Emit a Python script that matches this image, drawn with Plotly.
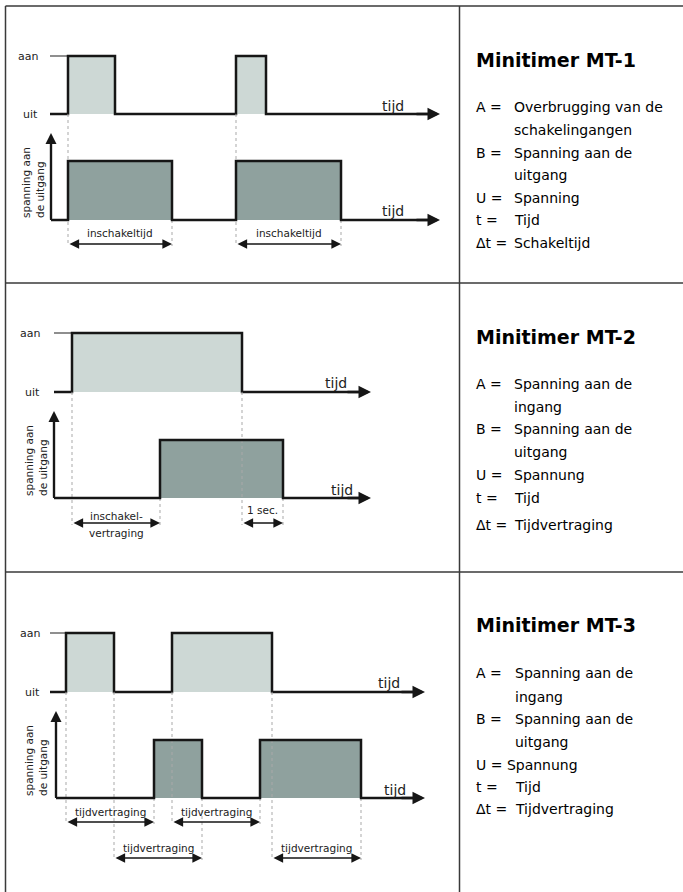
import plotly.graph_objects as go

W, H = 683, 892
FONT = "DejaVu Sans"
INK = "#161616"
LIGHT_FILL = "#cdd8d5"
DARK_FILL = "#8fa19e"
GUIDE = "#a9a9a9"
BORDER = "#3a3a3a"

# ---------------- data (time in arbitrary units, 0 = output axis) -------------
MT1_A_ON = [1.7, 18.5]
MT1_A_OFF = [6.4, 21.5]
MT1_B_ON = [1.7, 18.5]
MT1_B_OFF = [12.1, 29.0]

MT2_A_ON = [1.8]
MT2_A_OFF = [18.8]
MT2_B_ON = [10.6]
MT2_B_OFF = [22.9]

MT3_A_ON = [1.0, 11.6]
MT3_A_OFF = [5.8, 21.6]
MT3_B_ON = [9.8, 20.4]
MT3_B_OFF = [14.6, 30.5]

AXIS_END = [38.9, 31.7, 36.9]
INPUT_START = [-0.1, 0.0, -0.6]

LEVEL_LABELS = ["uit", "aan"]
TIME_LABEL = "tijd"
OUTPUT_LABEL = "spanning aan<br>de uitgang"

MT1_SPAN_LABELS = ["inschakeltijd", "inschakeltijd"]
MT2_SPAN_LABELS = ["inschakel-", "1 sec."]
MT2_SPAN_SUBLABELS = ["vertraging", ""]
MT3_SPAN_LABELS = ["tijdvertraging", "tijdvertraging", "tijdvertraging", "tijdvertraging"]

TITLES = ["Minitimer MT-1", "Minitimer MT-2", "Minitimer MT-3"]
MT1_KEYS = ["A =", "", "B =", "", "U =", "t =", "Δt ="]
MT1_TEXTS = ["Overbrugging van de", "schakelingangen", "Spanning aan de", "uitgang",
             "Spanning", "Tijd", "Schakeltijd"]
MT2_KEYS = ["A =", "", "B =", "", "U =", "t =", "Δt ="]
MT2_TEXTS = ["Spanning aan de", "ingang", "Spanning aan de", "uitgang",
             "Spannung", "Tijd", "Tijdvertraging"]
MT3_KEYS = ["A =", "", "B =", "", "U = Spannung", "t =", "Δt ="]
MT3_TEXTS = ["Spanning aan de", "ingang", "Spanning aan de", "uitgang",
             "", "Tijd", "Tijdvertraging"]

# ---------------- derived structures --------------------------------------
ROWS_DATA = [
    dict(a_on=MT1_A_ON, a_off=MT1_A_OFF, b_on=MT1_B_ON, b_off=MT1_B_OFF,
         spans=[(a, b, 0) for a, b in zip(MT1_B_ON, MT1_B_OFF)],
         labels=MT1_SPAN_LABELS, sublabels=["", ""]),
    dict(a_on=MT2_A_ON, a_off=MT2_A_OFF, b_on=MT2_B_ON, b_off=MT2_B_OFF,
         spans=[(MT2_A_ON[0], MT2_B_ON[0], 0), (MT2_A_OFF[0], MT2_B_OFF[0], 0)],
         labels=MT2_SPAN_LABELS, sublabels=MT2_SPAN_SUBLABELS),
    dict(a_on=MT3_A_ON, a_off=MT3_A_OFF, b_on=MT3_B_ON, b_off=MT3_B_OFF,
         spans=[(a, b, 0) for a, b in zip(MT3_A_ON, MT3_B_ON)]
         + [(a, b, 1) for a, b in zip(MT3_A_OFF, MT3_B_OFF)],
         labels=MT3_SPAN_LABELS, sublabels=["", "", "", ""]),
]
LEGENDS = [(MT1_KEYS, MT1_TEXTS), (MT2_KEYS, MT2_TEXTS), (MT3_KEYS, MT3_TEXTS)]

# ---------------- layout geometry (pixels) --------------------------------
PX_PER_T = 10.0
GEOM = [
    dict(ox=51, in_base=114, in_high=56, out_base=220, out_high=161, lab_right=40,
         ylab_x=32.5, span_px=[244], label_dy=[11, 11], sub_dy=-10,
         tijd=[(393, 106), (393, 211)], title_y=60,
         leg_y=[107, 130, 153, 175, 198, 220, 243], text_x=512),
    dict(ox=54, in_base=392, in_high=333, out_base=498, out_high=440, lab_right=42,
         ylab_x=35.5, span_px=[523], label_dy=[7, 13], sub_dy=-10,
         tijd=[(336, 383), (342, 490)], title_y=337,
         leg_y=[384, 407, 429, 452, 475, 498, 525], text_x=512),
    dict(ox=56, in_base=692, in_high=633, out_base=798, out_high=740, lab_right=42,
         ylab_x=35.5, span_px=[822, 858], label_dy=[10, 10, 10, 10], sub_dy=-10,
         tijd=[(389, 683), (395, 790)], title_y=625,
         leg_y=[673, 697, 719, 742, 765, 787, 809], text_x=513),
]
AXIS_TOP_PX = 87
ARROW_TAIL = 2.5     # annotation tail length (time units)
LINE_STOP = 0.9      # signal lines stop this far before the arrow tip (time units)
KEY_X = 474


def px_x(px):
    return px / W


def px_y(py):
    return 1 - py / H


def pulse_polys(ons, offs):
    xs, ys = [], []
    for a, b in zip(ons, offs):
        xs += [a, a, b, b, None]
        ys += [0, 1, 1, 0, None]
    return xs, ys


def step_line(start, ons, offs, end):
    xs, ys = [start], [0]
    for a, b in zip(ons, offs):
        xs += [a, b]
        ys += [1, 0]
    xs.append(end)
    ys.append(0)
    return xs, ys


fig = go.Figure()
axes = {}
annotations = []
shapes = []

for r in range(3):
    g = GEOM[r]
    d = ROWS_DATA[r]
    xa = "x" if r == 0 else f"x{r + 1}"
    xa_name = "xaxis" if r == 0 else f"xaxis{r + 1}"
    yi, yo = 2 * r + 1, 2 * r + 2
    yin = "y" if yi == 1 else f"y{yi}"
    yin_name = "yaxis" if yi == 1 else f"yaxis{yi}"
    yout = f"y{yo}"
    yout_name = f"yaxis{yo}"

    axes[xa_name] = dict(domain=[0, 1], range=[-g["ox"] / PX_PER_T, (W - g["ox"]) / PX_PER_T],
                         visible=False, fixedrange=True)
    u_in = g["in_base"] - g["in_high"]
    axes[yin_name] = dict(domain=[0, 1], range=[-(H - g["in_base"]) / u_in, g["in_base"] / u_in],
                          visible=False, fixedrange=True)
    u_out = g["out_base"] - g["out_high"]
    axes[yout_name] = dict(domain=[0, 1], range=[-(H - g["out_base"]) / u_out, g["out_base"] / u_out],
                           visible=False, fixedrange=True)

    def out_val(px):
        return (g["out_base"] - px) / u_out

    top_val = out_val(g["out_base"] - AXIS_TOP_PX)

    # fills
    xs, ys = pulse_polys(d["a_on"], d["a_off"])
    fig.add_trace(go.Scatter(x=xs, y=ys, xaxis=xa, yaxis=yin, mode="lines", fill="toself",
                             fillcolor=LIGHT_FILL, line=dict(width=0), hoverinfo="skip"))
    xs, ys = pulse_polys(d["b_on"], d["b_off"])
    fig.add_trace(go.Scatter(x=xs, y=ys, xaxis=xa, yaxis=yout, mode="lines", fill="toself",
                             fillcolor=DARK_FILL, line=dict(width=0), hoverinfo="skip"))

    # dotted guide lines
    a_edges = set(d["a_on"]) | set(d["a_off"])
    gx, gy = [], []
    for t0, t1, lvl in d["spans"]:
        bottom = out_val(g["span_px"][lvl] + 2)
        for t in (t0, t1):
            top = out_val(g["in_base"]) if t in a_edges else 0
            gx += [t, t, None]
            gy += [top, bottom, None]
    fig.add_trace(go.Scatter(x=gx, y=gy, xaxis=xa, yaxis=yout, mode="lines",
                             line=dict(color=GUIDE, width=1, dash="dot"), hoverinfo="skip"))

    # "aan" reference tick
    fig.add_trace(go.Scatter(x=[INPUT_START[r], d["a_on"][0]], y=[1, 1], xaxis=xa, yaxis=yin,
                             mode="lines", line=dict(color="#444444", width=1.2), hoverinfo="skip"))

    # signal lines
    xs, ys = step_line(INPUT_START[r], d["a_on"], d["a_off"], AXIS_END[r] - LINE_STOP)
    fig.add_trace(go.Scatter(x=xs, y=ys, xaxis=xa, yaxis=yin, mode="lines", line_shape="hv",
                             line=dict(color=INK, width=2.5), hoverinfo="skip"))
    xs, ys = step_line(0, d["b_on"], d["b_off"], AXIS_END[r] - LINE_STOP)
    fig.add_trace(go.Scatter(x=xs, y=ys, xaxis=xa, yaxis=yout, mode="lines", line_shape="hv",
                             line=dict(color=INK, width=2.5), hoverinfo="skip"))
    # vertical output axis
    fig.add_trace(go.Scatter(x=[0, 0], y=[0, top_val - 9 / u_out], xaxis=xa, yaxis=yout,
                             mode="lines", line=dict(color=INK, width=2.2), hoverinfo="skip"))

    # axis arrows
    for yref in (yin, yout):
        annotations.append(dict(x=AXIS_END[r], y=0, ax=AXIS_END[r] - ARROW_TAIL, ay=0,
                                xref=xa, yref=yref, axref=xa, ayref=yref, text="",
                                showarrow=True, arrowhead=2, arrowsize=1, arrowwidth=2.5,
                                arrowcolor=INK))
    annotations.append(dict(x=0, y=top_val, ax=0, ay=0,
                            xref=xa, yref=yout, axref=xa, ayref=yout, text="",
                            showarrow=True, arrowhead=2, arrowsize=1, arrowwidth=2.2,
                            arrowcolor=INK))

    # level labels
    for lvl, lab in enumerate(LEVEL_LABELS):
        annotations.append(dict(x=px_x(g["lab_right"]), xref="paper", y=lvl, yref=yin,
                                xanchor="right", yanchor="middle", text=lab, showarrow=False,
                                font=dict(family=FONT, size=11, color="#222222")))
    # output axis label
    annotations.append(dict(x=px_x(g["ylab_x"]), xref="paper", y=0, yref=yout,
                            xanchor="center", yanchor="bottom", textangle=-90, align="left",
                            text=OUTPUT_LABEL, showarrow=False,
                            font=dict(family=FONT, size=10.5, color="#222222")))
    # "tijd" labels
    for tx, ty in g["tijd"]:
        annotations.append(dict(x=px_x(tx), y=px_y(ty), xref="paper", yref="paper",
                                xanchor="center", yanchor="middle",
                                text=TIME_LABEL, showarrow=False,
                                font=dict(family=FONT, size=14, color="#222222")))

    # dimension arrows
    for k, (t0, t1, lvl) in enumerate(d["spans"]):
        yv = out_val(g["span_px"][lvl])
        annotations.append(dict(x=t1, y=yv, ax=t0, ay=yv, xref=xa, yref=yout, axref=xa,
                                ayref=yout, text="", showarrow=True, arrowhead=2,
                                startarrowhead=2, arrowside="end+start", arrowsize=1.2,
                                startarrowsize=1.2, arrowwidth=1.6, arrowcolor=INK))
        annotations.append(dict(x=(t0 + t1) / 2, y=yv, xref=xa, yref=yout,
                                xanchor="center", yanchor="middle",
                                yshift=g["label_dy"][k], text=d["labels"][k], showarrow=False,
                                font=dict(family=FONT, size=10.5, color="#222222")))
        if d["sublabels"][k]:
            annotations.append(dict(x=(t0 + t1) / 2, y=yv, xref=xa, yref=yout,
                                    xanchor="center", yanchor="middle",
                                    yshift=g["sub_dy"], text=d["sublabels"][k],
                                    showarrow=False,
                                    font=dict(family=FONT, size=10.5, color="#222222")))

    # right column text
    annotations.append(dict(x=px_x(KEY_X), y=px_y(g["title_y"]), xref="paper", yref="paper",
                            xanchor="left", yanchor="middle", text="<b>" + TITLES[r] + "</b>",
                            showarrow=False, font=dict(family=FONT, size=19, color="#000000")))
    keys, texts = LEGENDS[r]
    for k, (key, txt) in enumerate(zip(keys, texts)):
        yy = px_y(g["leg_y"][k])
        if key:
            annotations.append(dict(x=px_x(KEY_X), y=yy, xref="paper", yref="paper",
                                    xanchor="left", yanchor="middle", text=key,
                                    showarrow=False,
                                    font=dict(family=FONT, size=14, color="#000000")))
        if txt:
            annotations.append(dict(x=px_x(g["text_x"]), y=yy, xref="paper", yref="paper",
                                    xanchor="left", yanchor="middle", text=txt,
                                    showarrow=False,
                                    font=dict(family=FONT, size=14, color="#000000")))

# table borders
for (x0, y0, x1, y1) in [(5.5, 6, W, 6), (5.5, 6, 5.5, H), (459.5, 6, 459.5, H),
                         (5.5, 283, W, 283), (5.5, 572, W, 572)]:
    shapes.append(dict(type="line", xref="paper", yref="paper", x0=px_x(x0), y0=px_y(y0),
                       x1=px_x(x1), y1=px_y(y1), line=dict(color=BORDER, width=1.5)))

fig.update_layout(width=W, height=H, margin=dict(l=0, r=0, t=0, b=0),
                  paper_bgcolor="white", plot_bgcolor="rgba(0,0,0,0)", showlegend=False,
                  annotations=annotations, shapes=shapes, **axes)
fig.write_html("out.html", config={"displayModeBar": False, "staticPlot": True},
               post_script="document.body.style.margin='0';"
                           "document.body.style.overflow='hidden';")
